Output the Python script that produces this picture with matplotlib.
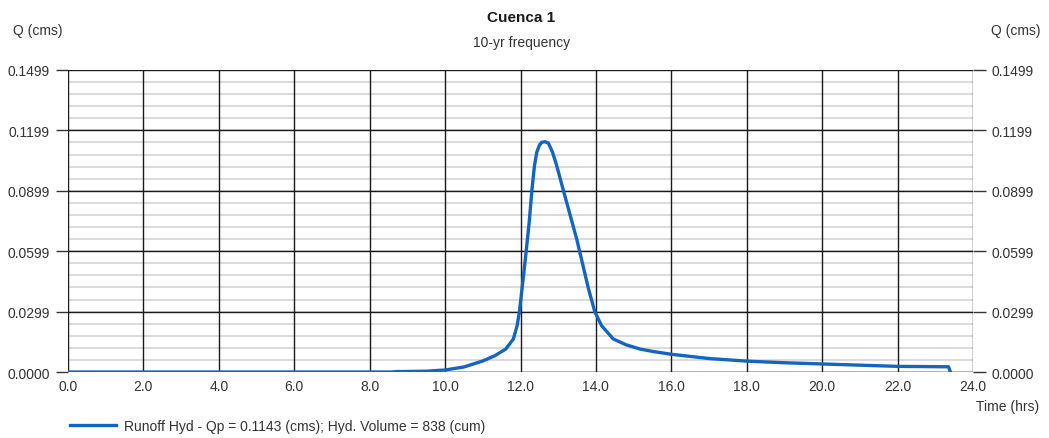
import matplotlib
matplotlib.use("Agg")
import matplotlib.pyplot as plt
import numpy as np

plt.rcParams['font.family'] = ['Liberation Sans', 'DejaVu Sans']

# hidrograma de escorrentia - Cuenca 1, 10 años
tiempo_hrs = [0.0, 8.6, 8.7, 9.5, 10.0, 10.5, 11.0, 11.32, 11.61, 11.81, 11.91,
              11.97, 12.06, 12.15, 12.23, 12.30, 12.37, 12.43, 12.50, 12.56,
              12.65, 12.74, 12.85, 12.96, 13.14, 13.49, 13.8, 13.97, 14.15,
              14.46, 14.8, 15.17, 15.51, 16.0, 16.57, 17.0, 18.0, 19.0, 20.0,
              21.0, 22.0, 23.35, 23.4]
caudal_cms = [0.0, 0.0, 0.0002, 0.0004, 0.001, 0.0025, 0.0055, 0.0081, 0.0114,
              0.0164, 0.023, 0.0299, 0.0445, 0.0599, 0.0743, 0.0899, 0.1024,
              0.109, 0.1125, 0.114, 0.1143, 0.1136, 0.109, 0.1024, 0.0899,
              0.066, 0.0415, 0.0299, 0.023, 0.0164, 0.0135, 0.0114, 0.0102,
              0.0088, 0.0076, 0.0067, 0.0054, 0.0046, 0.0040, 0.0034, 0.0028,
              0.0026, 0.0]

x_ticks = np.arange(0, 24.1, 2.0)
y_max = 0.1499
y_ticks = [0.0, 0.0299, 0.0599, 0.0899, 0.1199, 0.1499]
y_minor = np.linspace(0, y_max, 26)

qp = 0.1143
volumen = 838

fig = plt.figure(figsize=(10.49, 4.39), dpi=100)
ax = fig.add_axes([0.0648, 0.1503, 0.8628, 0.688])

# cuadricula
for yv in y_minor:
    ax.axhline(yv, color='#d4d4d4', lw=1.2, zorder=1)
for yv in np.linspace(0, y_max, 6):
    ax.axhline(yv, color='#1a1a1a', lw=1.0, zorder=2)
for xv in x_ticks:
    ax.axvline(xv, color='#1a1a1a', lw=1.0, zorder=2)

ax.plot(tiempo_hrs, caudal_cms, color='#1565c0', lw=2.4, zorder=3,
        solid_joinstyle='round',
        label=f"Runoff Hyd - Qp = {qp:.4f} (cms); Hyd. Volume = {volumen} (cum)")

ax.set_xlim(0, 24)
ax.set_ylim(0, y_max)
for s in ax.spines.values():
    s.set_visible(False)

ax.set_xticks(x_ticks)
ax.set_xticklabels([f"{v:.1f}" for v in x_ticks])
ax.set_yticks(np.linspace(0, y_max, 6))
ax.set_yticklabels([f"{v:.4f}" for v in y_ticks])
ax.tick_params(axis='x', length=0, pad=5, labelsize=10, colors='#333333')
ax.tick_params(axis='y', length=9, width=1, color='#333333', pad=4,
               labelsize=10, labelcolor='#333333', left=True, right=True,
               labelleft=True, labelright=True)

fig.text(0.497, 0.958, "Cuenca 1", ha='center', va='center', fontsize=11,
         fontweight='bold', color='#1a1a1a')
fig.text(0.497, 0.902, "10-yr frequency", ha='center', va='center',
         fontsize=10, color='#333333')
fig.text(0.012, 0.929, "Q (cms)", ha='left', va='center', fontsize=10,
         color='#333333')
fig.text(0.945, 0.929, "Q (cms)", ha='left', va='center', fontsize=10,
         color='#333333')
fig.text(0.930, 0.073, "Time (hrs)", ha='left', va='center', fontsize=10,
         color='#333333')

leg = fig.legend(loc='center left', bbox_to_anchor=(0.055, 0.027),
                 frameon=False, fontsize=10, handlelength=3.3,
                 handletextpad=0.6)
for t in leg.get_texts():
    t.set_color('#333333')

fig.savefig("out.png", dpi=100, facecolor='white')
